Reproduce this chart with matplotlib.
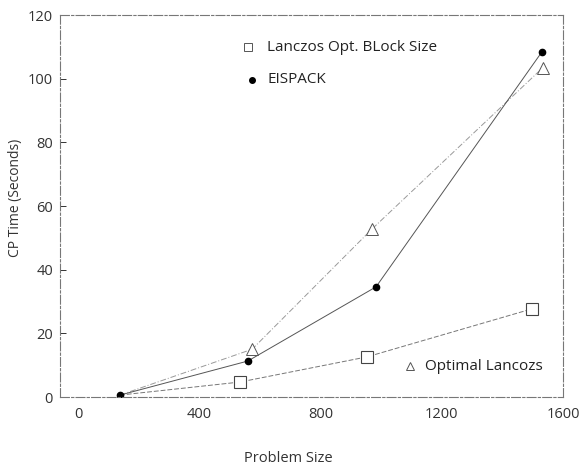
import matplotlib
matplotlib.use("Agg")
import matplotlib.pyplot as plt

plt.rcParams['font.family'] = ['Open Sans', 'DejaVu Sans']

# problem sizes and CP times in seconds
size_block = [138, 534, 953, 1498]
time_block = [0.6, 4.7, 12.6, 27.7]

size_eispack = [138, 560, 983, 1531]
time_eispack = [0.6, 11.3, 34.6, 108.5]

size_optimal = [138, 574, 970, 1534]
time_optimal = [0.6, 15.0, 52.8, 103.5]

x_ticks = [0, 400, 800, 1200, 1600]
y_ticks = [0, 20, 40, 60, 80, 100, 120]

fig = plt.figure(figsize=(5.81, 4.69), dpi=100)
ax = fig.add_axes([60 / 581, (469 - 397) / 469, 503 / 581, 382 / 469])

# the shared first point only shows the EISPACK dot in the original
ax.plot(size_optimal, time_optimal, color="#999999", lw=0.7, markevery=[1, 2, 3],
        linestyle=(0, (6, 2, 1, 2)), marker="^", ms=8, mfc="white", mec="#555555", mew=0.7)
ax.plot(size_block, time_block, color="#777777", lw=0.7, linestyle=(0, (5, 2)),
        markevery=[1, 2, 3], marker="s", ms=8, mfc="white", mec="#444444", mew=0.8)
ax.plot(size_eispack, time_eispack, color="#555555", lw=0.7,
        marker="o", ms=4.5, mfc="black", mec="black")

ax.set_xlim(-60, 1600)
ax.set_ylim(0, 120)
ax.set_xticks(x_ticks)
ax.set_yticks(y_ticks)
ax.tick_params(axis="x", length=0, pad=7, labelsize=10.5, colors="#333333")
ax.tick_params(axis="y", direction="in", length=4, width=0.7, pad=5, labelsize=10.5, colors="#333333")

for sp in ax.spines.values():
    sp.set_linestyle((0, (8, 2, 2, 2)))
    sp.set_color("#777777")
    sp.set_linewidth(0.8)

ax.set_xlabel("Problem Size", fontsize=10.5, color="#333333")
ax.xaxis.set_label_coords(0.453, -0.16)
ax.xaxis.label.set_va("center")
ax.set_ylabel("CP Time (Seconds)", fontsize=10, color="#333333")
ax.yaxis.set_label_coords(-0.089, 0.52)
ax.yaxis.label.set_va("center")

# in-plot legend entries
ax.plot([0.374], [0.916], transform=ax.transAxes, marker="s", ms=6, mfc="white",
        mec="#555555", mew=0.7, clip_on=False)
ax.text(0.412, 0.916, "Lanczos Opt. BLock Size", transform=ax.transAxes,
        fontsize=11, va="center", color="#222222")
ax.plot([0.382], [0.830], transform=ax.transAxes, marker="o", ms=4, color="black")
ax.text(0.412, 0.830, "EISPACK", transform=ax.transAxes,
        fontsize=11, va="center", color="#222222")
ax.plot([0.696], [0.081], transform=ax.transAxes, marker="^", ms=6, mfc="white",
        mec="#555555", mew=0.7)
ax.text(0.726, 0.081, "Optimal Lancozs", transform=ax.transAxes,
        fontsize=11, va="center", color="#222222")

fig.savefig("out.png", dpi=100)
